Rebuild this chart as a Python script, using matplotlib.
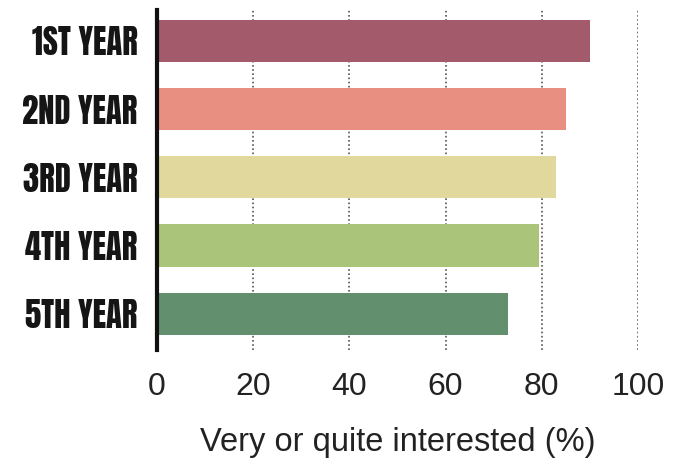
import matplotlib.pyplot as plt
from matplotlib import font_manager

years = ["1ST YEAR", "2ND YEAR", "3RD YEAR", "4TH YEAR", "5TH YEAR"]
interested = [90, 85, 83, 79.5, 73]
colors = ["#A35A6B", "#E98F82", "#E0D89C", "#AAC47A", "#62906E"]
xticks = [0, 20, 40, 60, 80, 100]

# heavy condensed face for the year labels, whichever is installed
available = {f.name for f in font_manager.fontManager.ttflist}
label_font = next((f for f in ["Anton", "Oswald", "Bebas Neue", "Liberation Sans Narrow"]
                   if f in available), "DejaVu Sans")
body_font = "Liberation Sans" if "Liberation Sans" in available else "DejaVu Sans"

fig = plt.figure(figsize=(6.84, 4.61), dpi=100)
ax = fig.add_axes([0.2295, 0.241, 0.7032, 0.737])

ypos = range(len(years))
ax.barh(ypos, interested, height=0.62, color=colors, zorder=2)

ax.set_xlim(0, 100)
ax.set_ylim(4.53, -0.45)
ax.set_xticks(xticks)
ax.set_yticks(list(ypos))
ax.set_yticklabels(years, family=label_font, fontsize=23.5, color="#151515")
ax.set_xticklabels([str(t) for t in xticks], family=body_font, fontsize=23, color="#222222")
ax.tick_params(axis="both", length=0)
ax.tick_params(axis="x", pad=16)
ax.tick_params(axis="y", pad=14)

ax.xaxis.grid(True, linestyle=(0, (1, 1.5)), color="#555555", linewidth=1.2, zorder=1)
for s in ["top", "right", "bottom"]:
    ax.spines[s].set_visible(False)
ax.spines["left"].set_linewidth(3)
ax.spines["left"].set_color("#111111")
ax.spines["left"].set_zorder(3)

ax.set_xlabel("Very or quite interested (%)", family=body_font, fontsize=23.5,
              color="#222222", labelpad=18)

fig.savefig("out.png", dpi=100)
